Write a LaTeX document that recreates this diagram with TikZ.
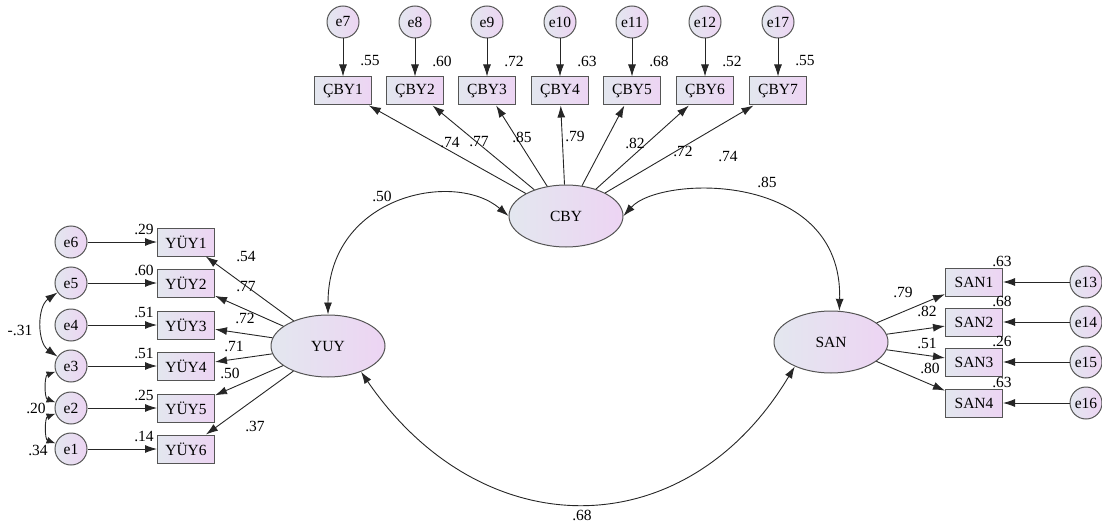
\documentclass[tikz,border=0pt]{standalone}
\usepackage{fontspec}
\setmainfont{Liberation Serif}
\usepackage{tikz}
\usetikzlibrary{arrows.meta}
\usetikzlibrary{shapes.geometric}

\definecolor{shadeL}{HTML}{E3E7EF}
\definecolor{shadeR}{HTML}{EDD4F3}
\definecolor{rim}{HTML}{555555}
\definecolor{ink}{HTML}{262626}

\tikzset{
	obs/.style={rectangle, draw=rim, line width=1pt, left color=shadeL, right color=shadeR, minimum width=57pt, minimum height=28pt, inner sep=0pt},
	lat/.style={ellipse, draw=rim, line width=1pt, left color=shadeL, right color=shadeR, minimum width=114pt, minimum height=62pt, inner sep=0pt},
	err/.style={circle, draw=rim, line width=1pt, left color=shadeL, right color=shadeR, minimum size=32pt, inner sep=0pt},
	est/.style={inner sep=0pt},
	link/.style={draw=ink, line width=0.9pt, ->},
	cov/.style={draw=ink, line width=0.9pt, <->},
	>={Latex[length=12pt,width=8pt]}
}

\begin{document}
\begin{tikzpicture}[x=1pt, y=1pt, font=\fontsize{15.5}{18}\selectfont]
		\useasboundingbox (0, 0) rectangle (1102, -524);

		% latent factors
		\node[lat] (CBY) at (566, -216) {CBY};
		\node[lat] (YUY) at (328, -346) {YUY};
		\node[lat] (SAN) at (831, -342) {SAN};

		% top indicators
		\foreach \n/\en/\x/\rsq in {1/7/343/.55, 2/8/415/.60, 3/9/487/.72, 4/10/560/.63, 5/11/632/.68, 6/12/705/.52, 7/17/778/.55} {
			\node[err] (e\en) at (\x, -22) {e\en};
			\node[obs] (cby\n) at (\x, -91) {ÇBY\n};
			\draw[link] (e\en) -- (cby\n);
			\draw[link] (CBY) -- (cby\n);
			\node[est] (rc\n) at (\x+27, -61) {\rsq};
		}
		\foreach \n/\x/\y/\lam in {1/450/143/.74, 2/479/142/.77, 3/522/137/.85, 4/575/136/.79, 5/635/143/.82, 6/683/151/.72, 7/728/157/.74}
			\node[est] (lc\n) at (\x, -\y) {\lam};

		% left indicators
		\foreach \n/\en/\y/\rsq in {1/6/242/.29, 2/5/283/.60, 3/4/325/.51, 4/3/366/.51, 5/2/408/.25, 6/1/449/.14} {
			\node[err] (e\en) at (71, -\y) {e\en};
			\node[obs] (yuy\n) at (186, -\y) {YÜY\n};
			\draw[link] (e\en) -- (yuy\n);
			\draw[link] (YUY) -- (yuy\n);
			\node[est] (ry\n) at (144, -\y+13) {\rsq};
		}
		\foreach \n/\x/\y/\lam in {1/246/257/.54, 2/246/287/.77, 3/245/318/.72, 4/234/346/.71, 5/230/373/.50, 6/255/426/.37}
			\node[est] (ly\n) at (\x, -\y) {\lam};

		% right indicators
		\foreach \n/\en/\y/\rsq in {1/13/282/.63, 2/14/322/.68, 3/15/362/.26, 4/16/403/.63} {
			\node[err] (e\en) at (1086, -\y) {e\en};
			\node[obs] (san\n) at (974, -\y) {SAN\n};
			\draw[link] (e\en) -- (san\n);
			\draw[link] (SAN) -- (san\n);
			\node[est] (rs\n) at (1002, -\y+21) {\rsq};
		}
		\foreach \n/\x/\y/\lam in {1/903/292/.79, 2/927/311/.82, 3/927/343/.51, 4/930/368/.80}
			\node[est] (ls\n) at (\x, -\y) {\lam};

		% factor correlations
		\draw[cov] (YUY.north) .. controls (328, -195) and (455, -170) .. (CBY.west);
		\draw[cov] (CBY.east) .. controls (660, -175) and (843, -170) .. (SAN.75);
		\draw[cov] (YUY.-38) .. controls (482, -548) and (686, -548) .. (SAN.-146);
		\node[est] (r50) at (382, -196) {.50};
		\node[est] (r85) at (767, -182) {.85};
		\node[est] (r68) at (582, -515) {.68};

		% error covariances
		\draw[cov] (e5) to[bend right=55] (e3);
		\draw[cov, >={Latex[length=9pt,width=7pt]}] (e3) to[bend right=70] (e2);
		\draw[cov, >={Latex[length=9pt,width=7pt]}] (e2) to[bend right=70] (e1);
		\node[est] (c53) at (20, -330) {-.31};
		\node[est] (c32) at (36, -408) {.20};
		\node[est] (c21) at (38, -450) {.34};
	\end{tikzpicture}
\end{document}
